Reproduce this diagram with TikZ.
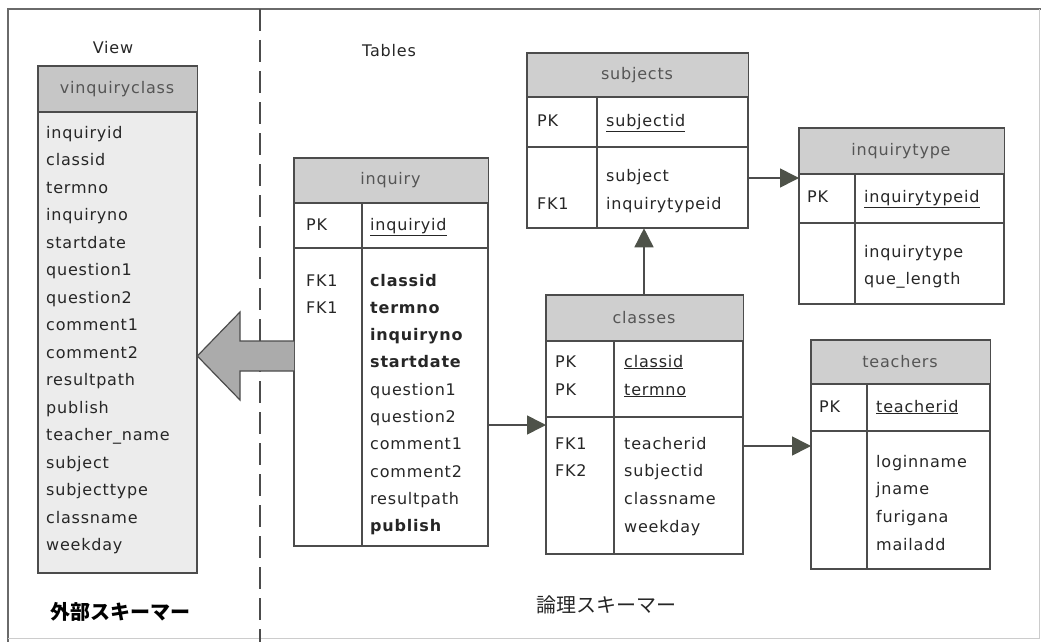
\documentclass[tikz,border=0pt]{standalone}
\usepackage{fontspec}
\setmainfont[LetterSpace=5]{DejaVu Sans}
\newfontfamily\jpfont{Noto Sans CJK JP}
\usetikzlibrary{arrows.meta}

\definecolor{linec}{HTML}{4C4C4C}
\definecolor{tipc}{HTML}{4E5249}
\definecolor{hdrgray}{HTML}{CFCFCF}
\definecolor{viewhdr}{HTML}{C6C6C6}
\definecolor{viewbody}{HTML}{ECECEC}
\definecolor{hdrtxt}{HTML}{555555}
\definecolor{celltxt}{HTML}{262626}
\definecolor{framec}{HTML}{6A6A6A}
\definecolor{arrowfill}{HTML}{ABABAB}

\newcommand\tabfont{\fontsize{16}{16}\selectfont}

\tikzset{
  tbl/.style={draw=linec, line width=1.3pt, rectangle, inner sep=0pt, anchor=north west},
  rulec/.style={draw=linec, line width=1.3pt},
  hdrtext/.style={text=hdrtxt, font=\tabfont, inner sep=0pt},
  cell/.style={anchor=west, inner sep=0pt, text height=11.5pt, text depth=3.5pt, text=celltxt, font=\tabfont},
  fk/.style={draw=linec, line width=1.6pt, -{Triangle[length=19pt,width=19pt,color=tipc]}},
  caption/.style={text=celltxt, font=\tabfont, inner sep=0pt},
}

% entity box: name, x1, y1, x2, y2, header bottom, key-section bottom, column divider, title
\newcommand\entity[9]{%
  \node[tbl, minimum width={(#4-#2)*1pt}, minimum height={(#5-#3)*1pt}] (#1) at (#2,#3) {};
  \fill[hdrgray] (#1.north west) rectangle (#1.east |- 0,#6);
  \draw[rulec] (#1.west |- 0,#6) -- (#1.east |- 0,#6);
  \draw[rulec] (#1.west |- 0,#7) -- (#1.east |- 0,#7);
  \draw[rulec] (#8,#6) -- (#1.south -| #8,0);
  \draw[rulec] (#1.north west) rectangle (#1.south east);
  \node[hdrtext] (#1-title) at ({(#2+#4)/2},{(#3+#6)/2}) {#9};
}
% column of texts: name prefix, x, first y, step, list
\newcommand\cells[5]{%
  \foreach \t [count=\k] in {#5} {
    \node[cell] (#1\k) at (#2,{#3+#4*(\k-1)}) {\t};
  }
}

\begin{document}
\begin{tikzpicture}[x=1pt,y=-1pt]
\useasboundingbox (0,0) rectangle (1041,642);

% frame
\draw[framec, line width=1.5pt] (8,642) -- (8,9) -- (1041,9);
\draw[black!20, line width=1pt] (1039,9) -- (1039,638) -- (8,638);

% divider between the external and the logical schema
\draw[linec, line width=1.5pt, dash pattern=on 22pt off 9pt] (260,9) -- (260,642);

% section captions
\node[caption] (viewlbl) at (113,48) {View};
\node[caption] (tablelbl) at (389,51) {Tables};
\node[inner sep=0pt, font={\jpfont\bfseries\fontsize{20}{20}\selectfont}] (extlbl) at (120,612) {外部スキーマー};
\node[inner sep=0pt, text=celltxt, font={\jpfont\fontsize{20}{20}\selectfont}] (loglbl) at (606,605) {論理スキーマー};

% view
\node[tbl, fill=viewbody, minimum width=158pt, minimum height=506pt] (view) at (38,66) {};
\fill[viewhdr] (view.north west) rectangle (view.east |- 0,112);
\draw[rulec] (view.west |- 0,112) -- (view.east |- 0,112);
\draw[rulec] (view.north west) rectangle (view.south east);
\node[hdrtext] (view-title) at (117,89) {vinquiryclass};
\cells{vcol}{46}{134}{27.5}{inquiryid,classid,termno,inquiryno,startdate,question1,question2,comment1,comment2,resultpath,publish,teacher\_name,subject,subjecttype,classname,weekday}

% inquiry
\entity{inquiry}{294}{158}{487}{545}{203}{248}{362}{inquiry}
\node[cell] (inq-pk) at (306,226) {PK};
\node[cell] (inq-id) at (370,226) {\underline{inquiryid}};
\cells{inqk}{306}{282}{27.3}{FK1,FK1}
\cells{inqa}{370}{282}{27.3}{\textbf{classid},\textbf{termno},\textbf{inquiryno},\textbf{startdate},question1,question2,comment1,comment2,resultpath,\textbf{publish}}

% classes
\entity{classes}{546}{295}{742}{553}{341}{417}{614}{classes}
\cells{clsk}{555}{363}{28}{PK,PK}
\cells{clsp}{624}{363}{28}{\underline{classid},\underline{termno}}
\cells{clsf}{555}{445}{27.7}{FK1,FK2}
\cells{clsa}{624}{445}{27.7}{teacherid,subjectid,classname,weekday}

% subjects
\entity{subjects}{527}{53}{747}{227}{97}{147}{597}{subjects}
\node[cell] (sub-pk) at (537,122) {PK};
\node[cell] (sub-id) at (606,122) {\underline{subjectid}};
\node[cell] (sub-fk) at (537,205) {FK1};
\cells{suba}{606}{177}{28}{subject,inquirytypeid}

% inquirytype
\entity{itype}{799}{128}{1003}{303}{174}{223}{855}{inquirytype}
\node[cell] (ity-pk) at (807,198) {PK};
\node[cell] (ity-id) at (864,198) {\underline{inquirytypeid}};
\cells{itya}{864}{253}{27.5}{inquirytype,que\_length}

% teachers
\entity{teachers}{811}{340}{989}{568}{384}{431}{867}{teachers}
\node[cell] (tch-pk) at (819,408) {PK};
\node[cell] (tch-id) at (876,408) {\underline{teacherid}};
\cells{tcha}{876}{463}{27.7}{loginname,jname,furigana,mailadd}

% foreign key references
\draw[fk] (inquiry.east |- 0,425) -- (classes.west |- 0,425);
\draw[fk] (classes.east |- 0,446) -- (teachers.west |- 0,446);
\draw[fk] (classes.north -| 644,0) -- (subjects.south -| 644,0);
\draw[fk] (subjects.east |- 0,178) -- (itype.west |- 0,178);

% the view is derived from the tables
\draw[linec, line width=1.2pt, fill=arrowfill, line join=miter]
  (inquiry.west |- 0,341) -- (240,341) -- (240,312) -- (view.east |- 0,356)
  -- (240,400) -- (240,371) -- (inquiry.west |- 0,371);
\end{tikzpicture}
\end{document}
